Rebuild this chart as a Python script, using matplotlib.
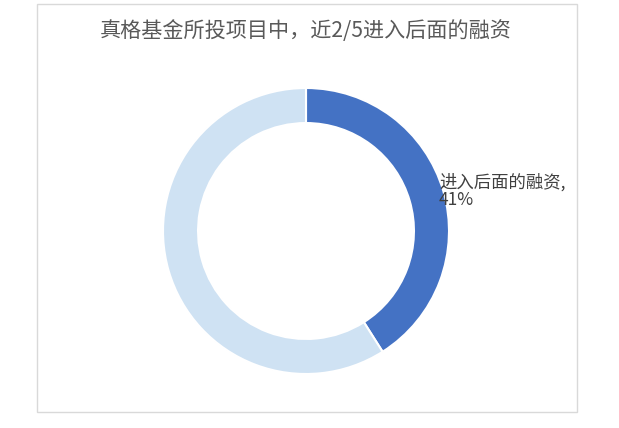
import matplotlib
matplotlib.use("Agg")
import matplotlib.pyplot as plt
from matplotlib.patches import Rectangle

plt.rcParams['font.family'] = ['Noto Sans CJK SC', 'DejaVu Sans']

title = "真格基金所投项目中，近2/5进入后面的融资"
categories = ["进入后面的融资", "其他"]
values = [41, 59]
colors = ["#4472C4", "#CFE2F3"]

W, H = 619, 428
fig = plt.figure(figsize=(W / 100, H / 100), dpi=100)
fig.patch.set_facecolor("white")

# chart border
fig.patches.append(Rectangle((37 / W, 1 - 412 / H), (577 - 37) / W, (412 - 4) / H,
                             transform=fig.transFigure, fill=False,
                             edgecolor="#D9D9D9", linewidth=1))

cx, cy, r = 306, 231, 143
ax = fig.add_axes([(cx - r) / W, (H - cy - r) / H, 2 * r / W, 2 * r / H])
ax.pie(values, colors=colors, startangle=90, counterclock=False, radius=1,
       wedgeprops=dict(width=0.245, edgecolor="white", linewidth=1.5))
ax.set_xlim(-1, 1)
ax.set_ylim(-1, 1)
ax.set_aspect("equal")
ax.axis("off")

fig.text(306 / W, 1 - 31 / H, title, ha="center", va="center",
         fontsize=15.2, color="#595959")

fig.text(439 / W, 1 - 191 / H, f"{categories[0]},\n{values[0]}%", ha="left", va="center",
         fontsize=12.5, color="#404040", linespacing=1.0)

fig.savefig("out.png", dpi=100, facecolor="white")
